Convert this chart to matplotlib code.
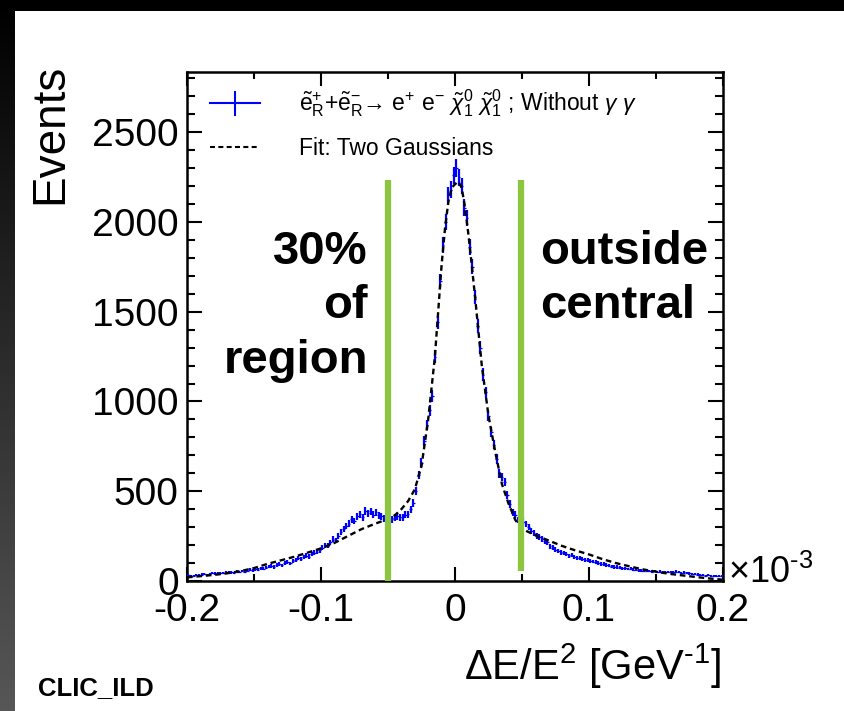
import numpy as np
import matplotlib
matplotlib.use("Agg")
import matplotlib.pyplot as plt
from matplotlib.lines import Line2D
from matplotlib.patches import Rectangle
from matplotlib.ticker import MultipleLocator

plt.rcParams['font.family'] = ['Liberation Sans', 'DejaVu Sans']
plt.rcParams['mathtext.fontset'] = 'custom'
plt.rcParams['mathtext.rm'] = 'Liberation Sans'
plt.rcParams['mathtext.it'] = 'Liberation Sans:italic'
plt.rcParams['mathtext.bf'] = 'Liberation Sans:bold'
plt.rcParams['axes.unicode_minus'] = False

# ---------------- data ----------------
bin_lo, bin_hi, n_bins = -0.2, 0.2, 200
counts = [
    32, 26, 30, 34, 31, 36, 38, 35, 40, 43,
    41, 44, 46, 43, 47, 50, 48, 46, 52, 50,
    55, 52, 58, 62, 60, 66, 64, 70, 68, 74,
    80, 84, 78, 90, 94, 88, 100, 105, 98, 112,
    118, 126, 120, 135, 142, 136, 150, 158, 162, 170,
    185, 200, 196, 215, 233, 226, 250, 275, 290, 305,
    320, 344, 335, 360, 372, 355, 390, 378, 389, 370,
    383, 365, 361, 350, 345, 335, 344, 352, 361, 355,
    355, 370, 372, 400, 435, 500, 590, 660, 780, 870,
    950, 1030, 1250, 1440, 1670, 1870, 2000, 2150, 2180, 2260,
    2300, 2250, 2200, 2080, 2020, 1860, 1750, 1580, 1420, 1300,
    1150, 1050, 920, 830, 760, 680, 600, 580, 550, 480,
    430, 380, 370, 340, 320, 330, 318, 300, 280, 265,
    250, 244, 235, 222, 215, 194, 185, 175, 167, 160,
    155, 150, 140, 145, 133, 130, 128, 122, 118, 115,
    112, 108, 106, 100, 95, 94, 90, 85, 80, 78,
    78, 75, 72, 70, 67, 68, 62, 64, 60, 58,
    58, 56, 55, 52, 56, 50, 52, 48, 50, 49,
    50, 48, 52, 50, 46, 48, 44, 42, 40, 38,
    36, 33, 35, 30, 32, 28, 30, 27, 28, 26,
]

fit_x = [-0.200, -0.190, -0.180, -0.170, -0.160, -0.150, -0.140, -0.130, -0.120,
         -0.110, -0.100, -0.090, -0.080, -0.070, -0.060, -0.050, -0.045, -0.040,
         -0.035, -0.030, -0.025, -0.020, -0.015, -0.010, -0.0075, -0.005, -0.0025,
         0.000, 0.0025, 0.005, 0.0075, 0.010, 0.0125, 0.015, 0.020, 0.025, 0.030,
         0.035, 0.040, 0.045, 0.050, 0.060, 0.070, 0.080, 0.090, 0.100, 0.110,
         0.120, 0.130, 0.140, 0.150, 0.160, 0.170, 0.180, 0.190, 0.200]
fit_y = [20, 27, 34, 43, 55, 72, 95, 115, 135,
         158, 182, 212, 250, 288, 318, 345, 365, 400,
         445, 510, 640, 900, 1250, 1760, 1960, 2110, 2190,
         2210, 2225, 2190, 2080, 1930, 1760, 1580, 1200, 920, 720,
         540, 430, 340, 290, 255, 225, 195, 170, 148, 122,
         100, 82, 65, 52, 40, 31, 22, 14, 7]

cut_x = [-0.050, 0.049]
cut_bottom = [0, 55]
cut_top = 2235

x_ticks = [-0.2, -0.1, 0.0, 0.1, 0.2]
x_tick_labels = ['-0.2', '-0.1', '0', '0.1', '0.2']
y_ticks = [0, 500, 1000, 1500, 2000, 2500]
y_tick_labels = ['0', '500', '1000', '1500', '2000', '2500']

legend_labels = [
    r'$\tilde{\mathrm{e}}^{+}_{\mathrm{R}}$+$\tilde{\mathrm{e}}^{-}_{\mathrm{R}}$→ e$^{+}$ e$^{-}$ '
    r'$\tilde{\chi}^{0}_{1}$ $\tilde{\chi}^{0}_{1}$ ; Without $\gamma$ $\gamma$',
    'Fit: Two Gaussians',
]

# ---------------- figure ----------------
W, H = 845, 711
fig = plt.figure(figsize=(W / 100, H / 100), dpi=100, facecolor='black')
fig.patches.append(Rectangle((15 / W, 0), 1, 1 - 11 / H, transform=fig.transFigure,
                             facecolor='white', edgecolor='none', zorder=-10))
gax = fig.add_axes([0, 0, 15 / W, 1], zorder=-5)
gax.imshow(np.linspace(0.0, 0.34, 256)[:, None], cmap='gray', vmin=0, vmax=1,
           aspect='auto')
gax.axis('off')

ax = fig.add_axes([187 / W, 1 - 581 / H, 536 / W, 509 / H], zorder=2)
ax.set_facecolor('none')

counts = np.array(counts, dtype=float)
edges = np.linspace(bin_lo, bin_hi, n_bins + 1)
centers = 0.5 * (edges[:-1] + edges[1:])
half_w = 0.5 * (edges[1] - edges[0])

ax.errorbar(centers, counts, xerr=half_w, fmt='none',
            ecolor='#0000ff', elinewidth=0.9, capsize=0, zorder=3)
ax.errorbar(centers, counts, yerr=np.sqrt(counts), fmt='none',
            ecolor='#0000ff', elinewidth=1.6, capsize=0, zorder=3)
ax.plot(fit_x, fit_y, color='black', lw=1.7, ls=(0, (2.4, 1.6)), zorder=4)

green = '#8cc63f'
for cx, cb in zip(cut_x, cut_bottom):
    ax.plot([cx, cx], [cb, cut_top], color=green, lw=4.5, solid_capstyle='butt', zorder=5)

ax.set_xlim(bin_lo, bin_hi)
ax.set_ylim(0, 2835)
ax.set_xticks(x_ticks)
ax.set_xticklabels(x_tick_labels)
ax.set_yticks(y_ticks)
ax.set_yticklabels(y_tick_labels)
ax.xaxis.set_minor_locator(MultipleLocator(0.05))
ax.yaxis.set_minor_locator(MultipleLocator(100))
ax.tick_params(which='both', direction='in', top=True, right=True, width=1.5,
               labelsize=28, colors='black')
ax.tick_params(axis='x', which='major', length=10, pad=8.5)
ax.tick_params(axis='x', which='minor', length=5)
ax.tick_params(axis='y', which='major', length=11, pad=6)
ax.tick_params(axis='y', which='minor', length=6)
for s in ax.spines.values():
    s.set_linewidth(1.8)

h1 = Line2D([], [], color='#0000ff', lw=1.5, marker='|', markersize=18,
            markeredgewidth=1.5)
h2 = Line2D([], [], color='black', lw=1.5, ls=(0, (2.4, 1.6)))
ax.legend([h1, h2], legend_labels, loc='upper left', bbox_to_anchor=(0.043, 0.969),
          frameon=False, fontsize=16.5, handlelength=2.2, handletextpad=1.66,
          labelspacing=0.75, borderpad=0.0, borderaxespad=0.0)

# annotations
kw = dict(fontsize=34, fontweight='bold', color='black')
fig.text(368 / W, 1 - 264 / H, '30%', ha='right', va='baseline', **kw)
fig.text(368 / W, 1 - 318 / H, 'of', ha='right', va='baseline', **kw)
fig.text(368 / W, 1 - 373 / H, 'region', ha='right', va='baseline', **kw)
fig.text(540 / W, 1 - 264 / H, 'outside', ha='left', va='baseline', **kw)
fig.text(540 / W, 1 - 318 / H, 'central', ha='left', va='baseline', **kw)

fig.text(728 / W, 1 - 583 / H, r'×10$^{\text{-3}}$', ha='left', va='baseline', fontsize=26)
fig.text(721 / W, 1 - 680 / H, r'$\Delta$E/E$^{2}$ [GeV$^{\text{-1}}$]', ha='right',
         va='baseline', fontsize=30)
fig.text(50 / W, 1 - 64 / H, 'Events', rotation=90, ha='center', va='top', fontsize=33)
fig.text(38 / W, 1 - 695 / H, 'CLIC_ILD', ha='left', va='baseline', fontsize=18.5,
         fontweight='bold')

fig.savefig('out.png', dpi=100, facecolor=fig.get_facecolor())
